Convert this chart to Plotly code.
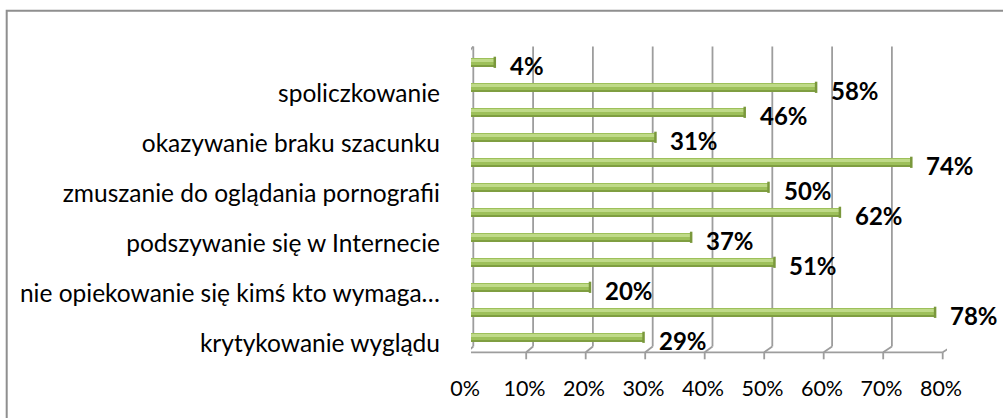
import plotly.graph_objects as go

# Category names printed on the axis (every second bar carries a label), bottom to top
labelled_categories = [
    "krytykowanie wyglądu",
    "nie opiekowanie się kimś kto wymaga…",
    "podszywanie się w Internecie",
    "zmuszanie do oglądania pornografii",
    "okazywanie braku szacunku",
    "spoliczkowanie",
]
# Share of answers for all twelve bars, bottom to top (percent)
values = [29, 78, 20, 51, 37, 62, 50, 74, 31, 46, 58, 4]
# Value axis
x_ticks = [0, 10, 20, 30, 40, 50, 60, 70, 80]
x_tick_labels = [f"{v}%" for v in x_ticks]

positions = list(range(len(values)))
label_positions = positions[::2]

W, H = 1003, 418
ML, MR, MT, MB = 471, 56, 40, 58
PW = W - ML - MR           # plot width in px
PH = H - MT - MB           # plot height in px
X_RANGE = [0, 80]
Y_RANGE = [-0.908, 11.892]
PX_X = PW / (X_RANGE[1] - X_RANGE[0])   # px per percent
PX_Y = PH / (Y_RANGE[1] - Y_RANGE[0])   # px per category step

FONT = "Lato"
GRID = "#9d9d9d"


def front_x(v):
    # front face of the 3-D box sits a little to the left of the bars
    return v - 4.3 / PX_X


def back_x(v):
    # back wall, pushed right by the depth of the box
    return v + (2.3 + 0.03 * v) / PX_X


Y_FRONT = -0.6
Y_BACK = Y_FRONT + 5.8 / PX_Y
Y_TOP_BACK = Y_BACK + 300 / PX_Y
TICK_STEP = 24.9 / PX_Y
Y_TOP_FRONT = Y_FRONT + 12 * TICK_STEP

shapes = []


def seg(x0, y0, x1, y1, width=1.8, color=GRID):
    shapes.append(dict(type="line", xref="x", yref="y", x0=x0, y0=y0, x1=x1, y1=y1,
                       line=dict(color=color, width=width), layer="below"))


# back wall gridlines
for v in x_ticks:
    seg(back_x(v), Y_BACK, back_x(v), Y_TOP_BACK)
# floor: front edge, depth lines and tick marks
seg(front_x(0), Y_FRONT, front_x(80), Y_FRONT)
for v in x_ticks:
    seg(front_x(v), Y_FRONT, back_x(v), Y_BACK)
    seg(front_x(v), Y_FRONT, front_x(v), Y_FRONT - 7 / PX_Y)
# left wall
seg(front_x(0), Y_FRONT, front_x(0), Y_TOP_FRONT)
seg(front_x(0), Y_TOP_FRONT, back_x(0), Y_TOP_BACK)
for k in range(13):
    y = Y_FRONT + k * TICK_STEP
    seg(front_x(0) - 8.5 / PX_X, y, front_x(0), y)

# chart area border (open towards the right and bottom edges)
shapes.append(dict(type="rect", xref="paper", yref="paper",
                   x0=(6.7 - ML) / PW, x1=(W + 20 - ML) / PW,
                   y0=-(H + 20 - MT - PH) / PH, y1=(H - 10.7 - MB) / PH,
                   line=dict(color="#8f8f8f", width=2), fillcolor="rgba(0,0,0,0)",
                   layer="below"))

fig = go.Figure()

# cylinder look: dark body, mid tone, and a light highlight band
layers = [
    (0.37, 0.0, "#7f9e41"),
    (0.28, 0.025, "#9dc05a"),
    (0.12, 0.07, "#bfda88"),
]
for width, shift, color in layers:
    fig.add_trace(go.Bar(
        x=values, y=positions, orientation="h",
        width=width, offset=-width / 2 + shift,
        marker=dict(color=color, line=dict(width=0)),
        hoverinfo="skip", showlegend=False,
    ))

# rounded end caps of the cylinders
fig.add_trace(go.Scatter(
    x=values, y=positions, mode="markers",
    marker=dict(symbol="line-ns", size=8, line=dict(color="#7a983c", width=2.5)),
    hoverinfo="skip", showlegend=False,
))

annotations = [
    dict(x=v, y=p, xref="x", yref="y", text=f"{v}%", showarrow=False,
         xanchor="left", yanchor="middle", xshift=13, yshift=-3,
         font=dict(family=FONT, size=24, color="#000000", weight="bold"))
    for v, p in zip(values, positions)
]

fig.update_layout(
    width=W, height=H,
    margin=dict(l=ML, r=MR, t=MT, b=MB, pad=0),
    paper_bgcolor="white", plot_bgcolor="white",
    barmode="overlay", bargap=0,
    shapes=shapes, annotations=annotations,
    font=dict(family=FONT, size=21.5, color="#000000"),
    hovermode=False,
    xaxis=dict(range=X_RANGE, tickvals=x_ticks, ticktext=x_tick_labels,
               tickfont=dict(size=21.5),
               showgrid=False, zeroline=False, showline=False, ticks="",
               ticklabelshift=-6, ticklabelstandoff=13, fixedrange=True),
    yaxis=dict(range=Y_RANGE, tickvals=[p - 0.24 for p in label_positions],
               ticktext=labelled_categories, tickfont=dict(size=24.5),
               showgrid=False, zeroline=False, showline=False, ticks="",
               ticklabelstandoff=30, fixedrange=True),
)

fig.write_html("out.html")
